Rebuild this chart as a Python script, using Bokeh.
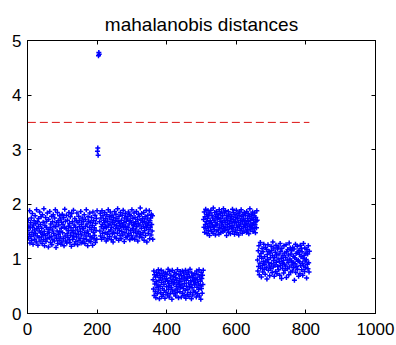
from bokeh.plotting import figure
from bokeh.models import Range1d, LinearAxis, FixedTicker, ColumnDataSource
from bokeh.embed import file_html
from bokeh.resources import INLINE

# ---- data (hundredths of a distance unit) ----
cluster_a1 = [
    152,171,138,160,145,188,129,157,166,141,175,134,149,183,158,127,162,144,170,153,
    136,179,147,165,131,190,155,142,168,125,159,174,139,151,186,133,163,148,177,140,
    156,128,181,145,167,135,192,150,124,161,143,176,132,158,169,137,184,146,154,122,
    172,149,139,187,157,130,164,141,178,126,153,168,135,181,147,160,133,175,143,190,
    159,121,166,138,151,185,128,170,145,162,134,179,150,140,173,127,156,167,131,182,
    148,163,137,176,124,158,191,142,169,133,155,180,129,146,171,139,160,152,185,135,
    165,130,177,143,157,123,183,149,168,136,152,189,141,162,127,174,147,158,132,170,
    140,184,153,126,166,145,178,134,159,171,138,150,187,129,163,144,175,156,131,168,
    155,137,181,148,128,172,160,142,190,135,164,151,124,177,146,169,133,158,184,141,
    167,132,154,176,139,161,125,186,149,170,137,157,143,180,130,165,152,174,136,188,
]
outliers = [297, 303, 290, 472, 478, 475]
cluster_a2 = [
    168,151,183,142,175,159,136,188,163,147,179,155,171,139,166,185,148,160,174,133,
    157,181,145,169,137,190,162,150,177,141,164,186,153,172,135,158,180,146,167,131,
    176,149,163,187,140,170,155,182,138,161,174,147,192,156,168,134,178,152,165,143,
    185,159,137,171,150,180,162,144,189,157,166,132,175,148,183,160,139,169,154,177,
    141,173,158,186,146,164,181,135,170,152,179,143,167,190,155,138,174,161,149,184,
    163,136,176,153,168,142,187,159,147,172,133,165,182,150,178,140,162,193,145,171,
    156,183,139,167,174,148,160,185,134,169,152,177,143,164,189,157,131,173,161,180,
    147,166,154,188,137,170,158,175,144,182,163,151,179,136,
]
cluster_b = [
    62,45,78,33,71,54,40,67,29,58,75,48,36,69,52,80,43,61,27,73,
    50,66,38,79,57,31,70,46,63,35,76,53,42,68,28,59,74,39,64,49,
    72,34,60,81,44,55,30,77,51,65,37,70,47,58,26,79,41,62,54,68,
    36,75,57,43,66,32,73,50,61,39,80,45,56,29,71,53,64,40,77,48,
    59,30,69,52,78,37,63,46,74,33,55,67,42,79,28,61,50,72,35,65,
    44,76,56,31,68,49,81,38,60,53,27,74,47,66,34,70,58,41,63,52,
    73,39,57,65,30,78,48,62,36,71,54,44,80,32,67,51,59,26,75,46,
    64,37,70,53,79,
]
cluster_c = [
    172,158,186,149,177,163,191,155,168,182,146,174,160,188,152,179,165,143,184,170,
    157,189,166,150,180,162,175,147,193,159,171,154,185,167,144,178,161,187,151,173,
    164,181,153,176,145,190,158,169,183,148,174,162,186,155,166,179,150,192,160,171,
    184,152,167,188,157,175,143,180,163,170,154,187,149,177,165,159,182,146,173,168,
    156,178,161,191,150,172,185,158,166,145,181,169,153,176,189,162,148,174,157,183,
    167,144,179,160,186,152,171,164,190,155,177,147,168,182,159,173,151,185,163,170,
    180,157,165,149,187,162,174,154,183,168,146,178,160,192,153,171,164,181,158,175,
    161,186,150,172,166,179,155,184,163,148,176,169,157,188,171,
]
cluster_d = [
    98,78,115,86,124,71,105,92,130,83,110,67,101,119,88,76,113,95,127,81,
    104,90,72,121,96,84,117,63,108,99,126,79,93,114,87,69,111,102,82,123,
    91,116,75,106,131,85,97,120,68,103,89,112,77,125,94,107,73,118,86,100,
    122,80,109,95,70,128,88,114,101,64,119,92,83,106,97,74,124,90,111,79,
    103,87,126,66,113,98,82,117,93,107,71,129,85,100,120,76,109,96,115,89,
    78,121,94,105,84,118,61,102,91,127,75,110,99,86,123,81,112,97,68,116,
    95,108,73,125,88,104,119,80,113,92,70,101,128,87,106,77,120,96,84,111,
    99,65,117,90,109,82,124,93,76,114,
]
threshold = 3.5
x_ticks = [0, 200, 400, 600, 800, 1000]
y_ticks = [0, 1, 2, 3, 4, 5]
title_text = "mahalanobis distances"

distances = [v / 100 for v in (cluster_a1 + outliers + cluster_a2 + cluster_b + cluster_c + cluster_d)]
index = list(range(1, len(distances) + 1))

FONT = "Liberation Sans"

p = figure(width=396, height=345, output_backend="svg", toolbar_location=None,
           x_range=Range1d(0, 1000), y_range=Range1d(0, 5),
           min_border_left=27, min_border_right=21, min_border_top=40, min_border_bottom=32)

p.title.text = title_text
p.title.text_font = FONT
p.title.text_font_size = "19px"
p.title.text_font_style = "normal"
p.title.align = "center"
p.title.text_color = "black"
p.title.standoff = 12

p.xgrid.visible = False
p.ygrid.visible = False
p.outline_line_color = "black"
p.background_fill_color = "white"
p.border_fill_color = "white"

p.xaxis.ticker = FixedTicker(ticks=x_ticks)
p.yaxis.ticker = FixedTicker(ticks=y_ticks)
for ax in (p.xaxis[0], p.yaxis[0]):
    ax.major_tick_in = 4
    ax.major_tick_out = 0
    ax.minor_tick_line_color = None
    ax.axis_line_color = "black"
    ax.major_tick_line_color = "black"
    ax.major_label_text_font = FONT
    ax.major_label_text_font_size = "17px"
    ax.major_label_text_color = "black"
p.xaxis.major_label_standoff = 9
p.yaxis.major_label_standoff = 6

for loc, tks in (("above", x_ticks), ("right", y_ticks)):
    ax = LinearAxis(ticker=FixedTicker(ticks=tks))
    ax.major_tick_in = 4
    ax.major_tick_out = 0
    ax.minor_tick_line_color = None
    ax.axis_line_color = "black"
    ax.major_tick_line_color = "black"
    ax.major_label_text_font_size = "1px"
    ax.major_label_text_color = None
    ax.major_label_standoff = 0
    p.add_layout(ax, loc)

src = ColumnDataSource(data=dict(x=index, y=distances))
p.scatter("x", "y", source=src, marker="cross", size=5, line_width=1.5, line_color="#0000ff")

p.line([index[0], index[-1]], [threshold, threshold], line_color="#dd1111", line_width=1, line_dash="8 4")

open("out.html", "w").write(file_html(p, INLINE))
